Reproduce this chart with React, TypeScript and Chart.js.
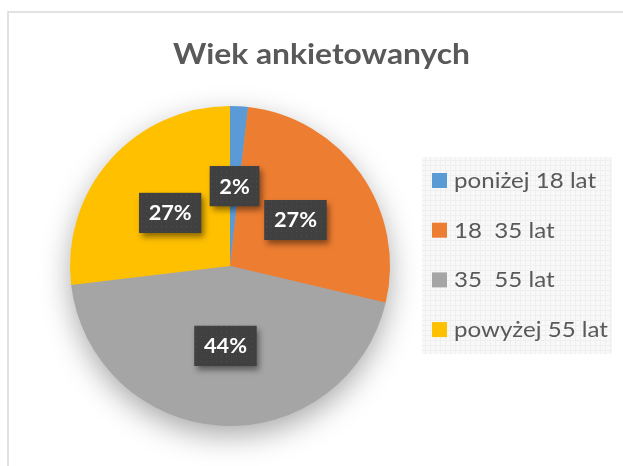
import React, { useEffect, useRef } from "react";
import { Chart, registerables } from "chart.js";

Chart.register(...registerables);

const TITLE = "Wiek ankietowanych";
const CATEGORIES = ["poniżej 18 lat", "18  35 lat", "35  55 lat", "powyżej 55 lat"];
const VALUES = [1.8, 26.9, 44.4, 26.9];
const COLORS = ["#5B9BD5", "#ED7D31", "#A5A5A5", "#FFC000"];

const FONT = "Lato, 'Open Sans', sans-serif";
const CAP = 0.7165;

function scaleFor(ctx: CanvasRenderingContext2D, text: string, font: string, width: number) {
  ctx.font = font;
  return width / ctx.measureText(text).width;
}

function drawScaled(
  ctx: CanvasRenderingContext2D,
  text: string,
  x: number,
  y: number,
  font: string,
  sx: number,
  align: CanvasTextAlign
) {
  ctx.save();
  ctx.font = font;
  ctx.textAlign = align;
  ctx.textBaseline = "alphabetic";
  ctx.translate(x, y);
  ctx.scale(sx, 1);
  ctx.fillText(text, 0, 0);
  ctx.restore();
}

function makePattern(ctx: CanvasRenderingContext2D, size: number, bg: string, fg: string, kind: "dot" | "grid") {
  const c = document.createElement("canvas");
  c.width = size;
  c.height = size;
  const p = c.getContext("2d")!;
  p.fillStyle = bg;
  p.fillRect(0, 0, size, size);
  p.fillStyle = fg;
  if (kind === "dot") {
    p.fillRect(1, 1, 1, 1);
  } else {
    p.fillRect(0, 0, size, 1);
    p.fillRect(0, 0, 1, size);
  }
  return ctx.createPattern(c, "repeat")!;
}

const decor = {
  id: "decor",
  beforeDraw(chart: any) {
    const ctx: CanvasRenderingContext2D = chart.ctx;
    ctx.save();
    ctx.fillStyle = "#ffffff";
    ctx.fillRect(0, 0, chart.width, chart.height);
    ctx.strokeStyle = "#d9d9d9";
    ctx.lineWidth = 1.5;
    ctx.beginPath();
    ctx.moveTo(8, chart.height);
    ctx.lineTo(8, 12);
    ctx.lineTo(chart.width, 12);
    ctx.stroke();

    // title
    const tf = `bold ${21 / CAP}px ${FONT}`;
    const tsx = scaleFor(ctx, TITLE, tf, 297);
    ctx.fillStyle = "#595959";
    drawScaled(ctx, TITLE, 321.5, 64, tf, tsx, "center");

    // legend
    ctx.fillStyle = makePattern(ctx, 5, "#f8f8f8", "#efefef", "grid");
    ctx.fillRect(422, 157, 190, 197);
    const lf = `normal ${15.5 / CAP}px ${FONT}`;
    const lsx = scaleFor(ctx, "powyżej 55 lat", lf, 154);
    const labels: string[] = chart.data.labels;
    const colors: string[] = chart.data.datasets[0].backgroundColor;
    labels.forEach((lab, i) => {
      const cy = 180.5 + i * 49.7;
      ctx.fillStyle = colors[i];
      ctx.fillRect(432, cy - 7.5, 15, 15);
      ctx.fillStyle = "#595959";
      drawScaled(ctx, lab, 454, cy + 7.5, lf, lsx, "left");
    });
    ctx.restore();
  },
  beforeDatasetsDraw(chart: any) {
    const meta = chart.getDatasetMeta(0);
    const a = meta.data[0];
    if (!a) return;
    const ctx: CanvasRenderingContext2D = chart.ctx;
    ctx.save();
    ctx.shadowColor = "rgba(0,0,0,0.35)";
    ctx.shadowBlur = 30;
    ctx.shadowOffsetX = 0;
    ctx.shadowOffsetY = 10;
    ctx.fillStyle = "#a5a5a5";
    ctx.beginPath();
    ctx.arc(a.x, a.y, a.outerRadius - 1, 0, Math.PI * 2);
    ctx.fill();
    ctx.restore();
  },
  afterDatasetsDraw(chart: any) {
    const meta = chart.getDatasetMeta(0);
    const ctx: CanvasRenderingContext2D = chart.ctx;
    const data: number[] = chart.data.datasets[0].data;
    const total = data.reduce((s, v) => s + v, 0);
    const lf = `bold ${15.5 / CAP}px ${FONT}`;
    const sx = scaleFor(ctx, "27%", lf, 43);
    const pat = makePattern(ctx, 5, "#404040", "#4e4e4e", "dot");
    meta.data.forEach((arc: any, i: number) => {
      const mid = (arc.startAngle + arc.endAngle) / 2;
      const px = arc.x + Math.cos(mid) * arc.outerRadius * 0.5;
      const py = arc.y + Math.sin(mid) * arc.outerRadius * 0.5;
      const txt = Math.round((data[i] / total) * 100) + "%";
      ctx.save();
      ctx.font = lf;
      const tw = ctx.measureText(txt).width * sx;
      const bw = tw + 19;
      const bh = 40;
      ctx.shadowColor = "rgba(0,0,0,0.45)";
      ctx.shadowBlur = 6;
      ctx.shadowOffsetX = 3;
      ctx.shadowOffsetY = 4;
      ctx.fillStyle = "#404040";
      ctx.fillRect(px - bw / 2, py - bh / 2, bw, bh);
      ctx.shadowColor = "transparent";
      ctx.fillStyle = pat;
      ctx.fillRect(px - bw / 2, py - bh / 2, bw, bh);
      ctx.fillStyle = "#ffffff";
      drawScaled(ctx, txt, px, py + 7.5, lf, sx, "center");
      ctx.restore();
    });
  },
};

export default function App() {
  const ref = useRef<HTMLCanvasElement>(null);
  useEffect(() => {
    if (!ref.current) return;
    const chart = new Chart(ref.current, {
      type: "pie",
      data: {
        labels: CATEGORIES,
        datasets: [
          {
            data: VALUES,
            backgroundColor: COLORS,
            borderWidth: 0,
          },
        ],
      },
      options: {
        responsive: false,
        animation: false,
        devicePixelRatio: 1,
        layout: { padding: { left: 70, right: 233, top: 106, bottom: 40 } },
        plugins: {
          legend: { display: false },
          title: { display: false },
          tooltip: { enabled: false },
        },
      },
      plugins: [decor],
    });
    return () => chart.destroy();
  }, []);
  return (
    <canvas
      ref={ref}
      width={623}
      height={466}
      style={{ position: "fixed", left: 0, top: 0, width: 623, height: 466, display: "block" }}
    />
  );
}
